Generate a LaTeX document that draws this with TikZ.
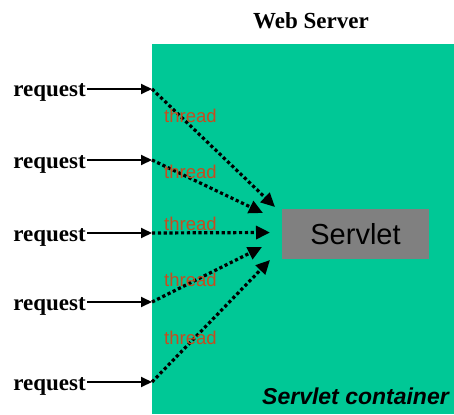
\documentclass[tikz,border=0pt]{standalone}
\usepackage{fontspec}
\setmainfont{Liberation Serif}
\setsansfont{Liberation Sans}
\usetikzlibrary{arrows.meta}
\definecolor{contgreen}{RGB}{0,200,150}
\definecolor{threadcol}{RGB}{200,75,30}
\definecolor{servgray}{RGB}{128,128,128}
\tikzset{
  reqtext/.style={font=\fontsize{23}{25}\selectfont\bfseries, inner sep=0pt, anchor=base east},
  reqarrow/.style={line width=2pt, -{Triangle[length=11pt,width=10pt]}},
  threadarrow/.style={line width=3.2pt, dash pattern=on 3.2pt off 2.6pt, -{Triangle[length=14pt,width=13pt]}},
  threadtext/.style={font=\sffamily\fontsize{18.5}{20}\selectfont, text=threadcol, inner sep=0pt, anchor=west},
}
\begin{document}
\begin{tikzpicture}[x=1pt,y=-1pt]
\useasboundingbox (0,0) rectangle (454,414);
\fill[white] (0,0) rectangle (454,414);
% container
\node[fill=contgreen, inner sep=0pt, minimum width=302pt, minimum height=370pt, anchor=north west] (container) at (152,44) {};
\node[font=\fontsize{23}{25}\selectfont\bfseries, inner sep=0pt] (web) at (311,21) {Web Server};
% servlet
\node[fill=servgray, inner sep=0pt, minimum width=147pt, minimum height=50pt, font=\sffamily\fontsize{29}{30}\selectfont] (servlet) at (355.5,234) {Servlet};
\node[font=\sffamily\bfseries\itshape\fontsize{23}{24}\selectfont, inner sep=0pt, anchor=base east] (contlabel) at (449,404) {Servlet container};
% requests
\foreach \i/\y in {1/89,2/160,3/233,4/302,5/382}{
  \node[reqtext] (rq\i) at (86,\y+8) {request};
  \coordinate (in\i) at (152,\y);
}
\foreach \i in {1,...,5}{
  \draw[reqarrow] (rq\i.base east |- in\i) ++(1,0) -- (in\i);
}
% thread tips
\coordinate (t1) at (275,207);
\coordinate (t2) at (263,213);
\coordinate (t3) at (270,232.5);
\coordinate (t4) at (262,247);
\coordinate (t5) at (270,260);
\foreach \i in {1,...,5}{
  \draw[threadarrow] (in\i) -- (t\i);
}
% thread labels
\foreach \i/\y in {1/116,2/172,3/224,4/280,5/338}{
  \node[threadtext] (th\i) at (164,\y) {thread};
}
\end{tikzpicture}
\end{document}
